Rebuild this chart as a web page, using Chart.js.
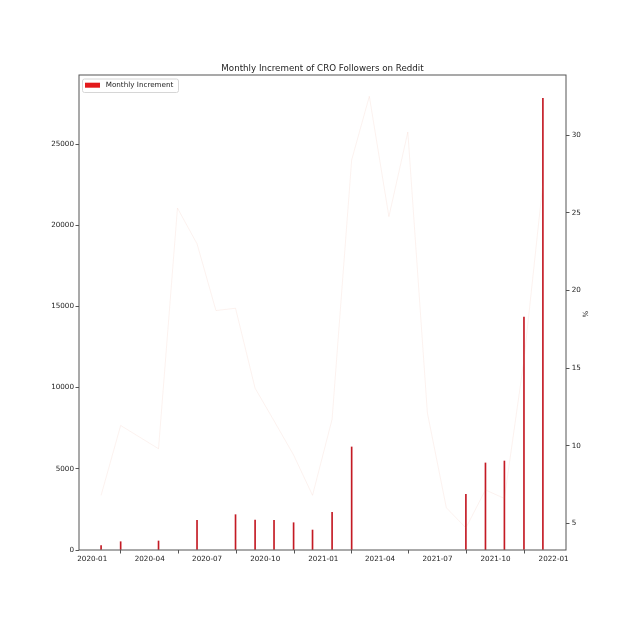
<!DOCTYPE html>
<html>
<head>
<meta charset="utf-8">
<script src="https://cdn.jsdelivr.net/npm/chart.js@4.4.0/dist/chart.umd.min.js"></script>
<style>
  html, body { margin: 0; padding: 0; background: #fff; }
  #wrap { width: 629px; height: 629px; }
</style>
</head>
<body>
<div id="wrap"><canvas id="chart"></canvas></div>
<script>
// values
const months = ['2020-01-15', '2020-02-15', '2020-04-15', '2020-05-15', '2020-06-15', '2020-07-15',
  '2020-08-15', '2020-09-15', '2020-10-15', '2020-11-15', '2020-12-15', '2021-01-15',
  '2021-02-15', '2021-03-15', '2021-04-15', '2021-05-15', '2021-06-15', '2021-07-15',
  '2021-08-15', '2021-09-15', '2021-10-15', '2021-11-15', '2021-12-15'];
const increments = [265, 510, 555, null, 1830, null,
  2175, 1850, 1830, 1680, 1230, 2320,
  6345, null, null, null, null, null,
  3430, 5360, 5480, 14350, 27810];
const percent = [6.8, 11.3, 9.8, 25.3, 23.0, 18.7,
  18.85, 13.7, 11.6, 9.4, 6.8, 11.7,
  28.4, 32.5, 24.75, 30.2, 12.1, 6.0,
  4.7, 7.15, 6.6, 15.5, 26.9];
const xTickLabels = ['2020-01', '2020-04', '2020-07', '2020-10', '2021-01', '2021-04', '2021-07', '2021-10', '2022-01'];
const leftTicks = [0, 5000, 10000, 15000, 20000, 25000];
const rightTicks = [5, 10, 15, 20, 25, 30];

const DAY = 86400000;
const ORIGIN = Date.UTC(2020, 0, 1);
function toDay(s) {
    const p = s.split('-');
    return (Date.UTC(+p[0], +p[1] - 1, +(p[2] || 1)) - ORIGIN) / DAY;
}
const xTickDays = xTickLabels.map(toDay);

const FONT = 'DejaVu Sans';
const TEXT = '#222';
const AXIS = '#555';
const RED = '#e31a1c';
const BAR = '#c41a24';
Chart.defaults.font.family = FONT;
Chart.defaults.color = TEXT;

// frame, title, legend box and right-axis label, matplotlib style
const decor = {
    id: 'decor',
    afterDraw(chart) {
        const { ctx, chartArea: a } = chart;
        ctx.save();
        ctx.strokeStyle = AXIS;
        ctx.lineWidth = 1;
        ctx.strokeRect(a.left, a.top, a.right - a.left, a.bottom - a.top);

        ctx.fillStyle = TEXT;
        ctx.font = `8.7px "${FONT}"`;
        ctx.textAlign = 'center';
        ctx.textBaseline = 'middle';
        ctx.fillText('Monthly Increment of CRO Followers on Reddit', (a.left + a.right) / 2, 68.3);

        // legend
        ctx.beginPath();
        ctx.roundRect(82.5, 79, 96, 13.5, 2);
        ctx.fillStyle = 'rgba(255,255,255,0.8)';
        ctx.fill();
        ctx.strokeStyle = '#d6d6d6';
        ctx.stroke();
        ctx.fillStyle = RED;
        ctx.fillRect(85, 82.7, 15, 5);
        ctx.fillStyle = TEXT;
        ctx.font = `7.2px "${FONT}"`;
        ctx.textAlign = 'left';
        ctx.fillText('Monthly Increment', 105.7, 85.6);

        // right axis label
        ctx.translate(586, 314);
        ctx.rotate(-Math.PI / 2);
        ctx.textAlign = 'center';
        ctx.fillText('%', 0, 0);
        ctx.restore();
    }
};

const barData = months.map((m, i) => ({ x: toDay(m), y: increments[i] })).filter(p => p.y !== null);
const lineData = months.map((m, i) => ({ x: toDay(m), y: percent[i] }));

const tickFont = { family: FONT, size: 7.2 };
const tickGrid = { drawOnChartArea: false, tickLength: 3.5, color: AXIS, lineWidth: 1 };

new Chart(document.getElementById('chart'), {
    type: 'bar',
    data: {
        datasets: [
            {
                type: 'bar', label: 'Monthly Increment', data: barData, yAxisID: 'y',
                backgroundColor: BAR, barThickness: 1, order: 2
            },
            {
                type: 'line', label: '%', data: lineData, yAxisID: 'y1',
                borderColor: 'rgba(225,110,80,0.09)', borderWidth: 1, pointRadius: 0, tension: 0, order: 1
            }
        ]
    },
    plugins: [decor],
    options: {
        responsive: true,
        maintainAspectRatio: false,
        animation: false,
        layout: { padding: { top: 75, left: 0, right: 0, bottom: 0 } },
        plugins: { legend: { display: false }, title: { display: false }, tooltip: { enabled: false } },
        scales: {
            x: {
                type: 'linear', min: -21, max: 750.6, offset: false,
                grid: tickGrid, border: { display: false },
                ticks: {
                    font: tickFont, padding: 1, maxRotation: 0, autoSkip: false,
                    callback: v => xTickLabels[xTickDays.indexOf(v)] || ''
                },
                afterBuildTicks: s => { s.ticks = xTickDays.map(v => ({ value: v })); },
                afterFit: s => { s.height = 79; }
            },
            y: {
                position: 'left', min: 0, max: 29250,
                grid: tickGrid, border: { display: false },
                ticks: { font: tickFont, padding: 1.5, callback: v => String(v) },
                afterBuildTicks: s => { s.ticks = leftTicks.map(v => ({ value: v })); },
                afterFit: s => { s.width = 79; }
            },
            y1: {
                position: 'right', min: 3.28, max: 33.87,
                grid: tickGrid, border: { display: false },
                ticks: { font: tickFont, padding: 2.2, callback: v => String(v) },
                afterBuildTicks: s => { s.ticks = rightTicks.map(v => ({ value: v })); },
                afterFit: s => { s.width = 63; }
            }
        }
    }
});
</script>
</body>
</html>
